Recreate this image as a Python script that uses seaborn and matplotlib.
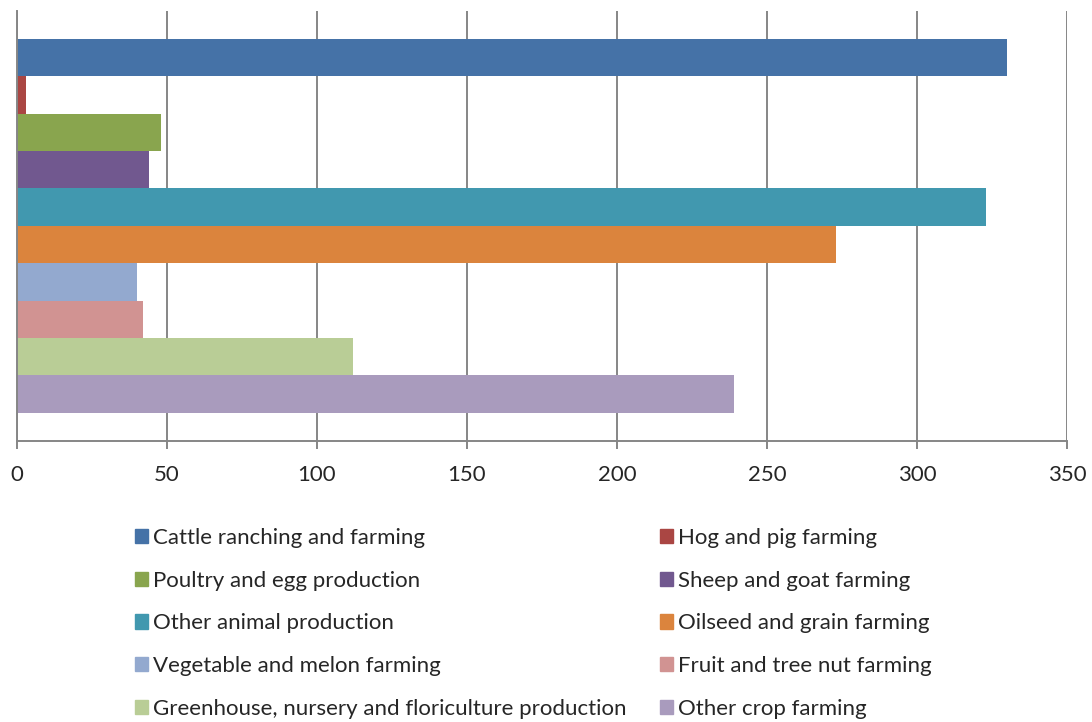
import matplotlib
matplotlib.use("Agg")
import matplotlib.pyplot as plt
import seaborn as sns
import pandas as pd

categories = [
    "Cattle ranching and farming",
    "Hog and pig farming",
    "Poultry and egg production",
    "Sheep and goat farming",
    "Other animal production",
    "Oilseed and grain farming",
    "Vegetable and melon farming",
    "Fruit and tree nut farming",
    "Greenhouse, nursery and floriculture production",
    "Other crop farming",
]
values = [330, 3, 48, 44, 323, 273, 40, 42, 112, 239]
colors = ["#4572A7", "#AA4643", "#89A54E", "#71588F", "#4198AF",
          "#DB843D", "#93A9CF", "#D19392", "#B9CD96", "#A99BBD"]
x_ticks = [0, 50, 100, 150, 200, 250, 300, 350]

sns.set_style("white")
plt.rcParams["font.family"] = ["Lato", "DejaVu Sans"]

df = pd.DataFrame({"category": categories, "value": values})

fig = plt.figure(figsize=(10.92, 7.22), dpi=100)
ax = fig.add_axes([17 / 1092, 1 - 441 / 722, 1050 / 1092, 430 / 722])

sns.barplot(data=df, x="value", y="category", hue="category", order=categories,
            hue_order=categories, palette=colors, width=1.0, orient="h",
            saturation=1, legend=False, linewidth=0, ax=ax)

ax.set_xlim(0, 350)
ax.set_ylim(9.5 + 0.76, -0.5 - 0.75)
ax.set_xticks(x_ticks)
ax.set_yticks([])
ax.set_xlabel("")
ax.set_ylabel("")
ax.grid(axis="x", color="#868686", linewidth=1.4)
ax.set_axisbelow(True)
for side in ["top", "right"]:
    ax.spines[side].set_visible(False)
for side in ["left", "bottom"]:
    ax.spines[side].set_color("#868686")
    ax.spines[side].set_linewidth(1.4)
ax.tick_params(axis="x", direction="out", length=6, width=1.4, color="#868686",
               labelsize=16, pad=11, bottom=True)

# legend, filled row by row like the original
handles = [plt.Rectangle((0, 0), 1, 1, color=c) for c in colors]
order = list(range(0, 10, 2)) + list(range(1, 10, 2))
fig.legend([handles[i] for i in order], [categories[i] for i in order],
           ncol=2, loc="upper left", bbox_to_anchor=(115 / 1092, 1 - 508 / 722),
           frameon=False, fontsize=16, handlelength=0.6, handleheight=0.6,
           handletextpad=0.22, labelspacing=1.02, columnspacing=1.5)

fig.savefig("out.png", dpi=100)
